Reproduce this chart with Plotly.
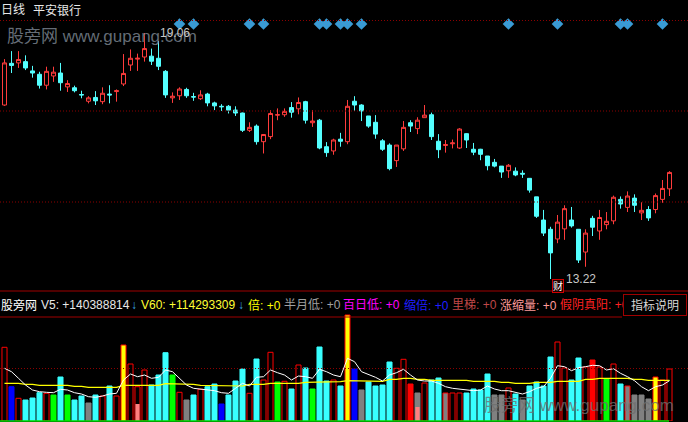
import plotly.graph_objects as go

W, H = 688, 422

# ---------------- data ----------------
period_label = "日线"
stock_name = "平安银行"

open_ = [17.35, 18.34, 18.35, 18.38, 18.16, 18.08, 17.82, 18.04, 18.11, 17.78,
         17.76, 17.60, 17.44, 17.53, 17.43, 17.61, 17.67, 17.85, 18.30, 18.44,
         18.49, 18.51, 18.46, 18.15, 17.52, 17.57, 17.72, 17.55, 17.50, 17.61,
         17.40, 17.32, 17.32, 17.23, 17.16, 16.75, 16.85, 16.48, 16.60, 17.11,
         17.12, 17.29, 17.26, 17.43, 16.93, 16.99, 16.36, 16.26, 16.54, 16.48,
         17.44, 17.35, 17.09, 16.94, 16.50, 16.40, 16.03, 16.31, 16.93, 16.79,
         17.05, 17.12, 16.49, 16.39, 16.43, 16.33, 16.67, 16.30, 16.30, 16.14,
         15.99, 15.90, 15.79, 15.78, 15.73, 15.61, 15.17, 14.62, 14.40, 14.17,
         14.41, 14.62, 14.40, 13.86, 14.66, 14.36, 14.51, 14.60, 15.11, 14.92,
         15.14, 14.79, 14.87, 14.87, 15.11, 15.36]
high = [18.44, 18.63, 18.63, 18.53, 18.28, 18.14, 18.26, 18.26, 18.35, 17.94,
        17.81, 17.69, 17.56, 17.68, 17.77, 17.82, 17.72, 18.56, 18.67, 18.57,
        19.06, 18.69, 18.87, 18.18, 17.65, 17.77, 17.76, 17.64, 17.70, 17.64,
        17.43, 17.37, 17.35, 17.32, 17.17, 16.94, 16.89, 16.66, 17.23, 17.27,
        17.27, 17.42, 17.53, 17.45, 17.23, 17.02, 16.47, 16.55, 16.69, 17.47,
        17.56, 17.37, 17.09, 17.11, 16.54, 16.44, 16.40, 16.97, 16.99, 17.06,
        17.35, 17.17, 16.66, 16.52, 16.53, 16.80, 16.68, 16.45, 16.31, 16.14,
        16.07, 15.90, 15.95, 15.87, 15.80, 15.61, 15.17, 14.86, 14.46, 14.74,
        14.97, 14.93, 14.40, 14.40, 14.72, 14.86, 14.81, 15.20, 15.18, 15.30,
        15.23, 15.04, 14.95, 15.25, 15.57, 15.78]
low = [17.33, 18.11, 18.23, 18.18, 18.00, 17.74, 17.72, 17.90, 17.69, 17.66,
       17.65, 17.51, 17.39, 17.35, 17.37, 17.39, 17.43, 17.80, 18.16, 18.16,
       18.38, 18.30, 18.18, 17.52, 17.40, 17.47, 17.52, 17.45, 17.47, 17.32,
       17.23, 17.21, 17.15, 17.09, 16.71, 16.71, 16.41, 16.20, 16.54, 16.99,
       17.07, 17.05, 17.13, 16.91, 16.83, 16.30, 16.12, 16.17, 16.36, 16.42,
       17.21, 16.97, 16.81, 16.55, 16.26, 15.80, 15.88, 16.26, 16.71, 16.66,
       17.05, 16.52, 16.09, 16.22, 16.32, 16.31, 16.33, 16.16, 16.04, 15.80,
       15.87, 15.62, 15.62, 15.66, 15.62, 15.27, 14.67, 14.24, 13.22, 14.07,
       14.15, 14.44, 13.60, 13.51, 14.24, 14.15, 14.40, 14.52, 14.89, 14.81,
       14.81, 14.62, 14.60, 14.78, 15.03, 15.19]
close = [18.35, 18.29, 18.43, 18.23, 18.11, 17.82, 18.15, 18.13, 17.88, 17.86,
         17.69, 17.59, 17.52, 17.45, 17.63, 17.59, 17.69, 18.10, 18.46, 18.46,
         18.69, 18.39, 18.27, 17.59, 17.56, 17.73, 17.57, 17.54, 17.59, 17.40,
         17.33, 17.31, 17.23, 17.16, 16.75, 16.82, 16.48, 16.65, 17.15, 17.12,
         17.20, 17.18, 17.41, 16.99, 16.97, 16.33, 16.22, 16.52, 16.49, 17.32,
         17.35, 17.21, 16.85, 16.66, 16.30, 15.84, 16.40, 16.82, 16.85, 16.99,
         17.11, 16.60, 16.29, 16.41, 16.45, 16.78, 16.52, 16.23, 16.18, 15.91,
         15.90, 15.76, 15.92, 15.69, 15.71, 15.33, 14.71, 14.31, 13.84, 14.57,
         14.89, 14.48, 13.67, 14.31, 14.45, 14.68, 14.59, 15.16, 15.00, 15.19,
         14.97, 14.85, 14.67, 15.20, 15.37, 15.75]

# volume, in 10k shares (万股)
volume = [22110, 10290, 6810, 6300, 6900, 8490, 8310, 7800, 13200, 7800,
          6300, 7500, 5400, 7800, 7500, 10500, 7500, 22800, 17100, 10290,
          15300, 10800, 13800, 20490, 13800, 8610, 6300, 7800, 9510, 10290,
          11100, 5100, 7800, 12000, 15600, 8310, 18600, 12300, 20610, 11700,
          11910, 9600, 16800, 15900, 9600, 22200, 12000, 12300, 10500, 31800,
          15600, 9300, 11700, 10500, 10800, 17700, 15810, 18510, 11100, 8400,
          11400, 12300, 12900, 8400, 8400, 8400, 8400, 9600, 9300, 14100,
          7800, 7800, 9900, 8100, 6300, 10500, 11700, 10500, 19200, 23700,
          15900, 12300, 18900, 16200, 18300, 16200, 12600, 17100, 11100, 10500,
          7800, 7800, 6600, 13200, 12300, 15600]
vol_kind = ["up", "shrink", "up", "down", "down", "down", "up", "ladder", "down", "ladder",
            "down", "down", "halfmonth_low", "down", "up", "down", "up", "double", "up", "up",
            "up", "down", "down", "down", "ladder", "up", "halfmonth_low", "down", "up", "down",
            "down", "shrink", "down", "down", "down", "up", "down", "up", "up", "ladder",
            "up", "down", "up", "down", "ladder", "down", "down", "up", "down", "double",
            "shrink", "halfmonth_low", "down", "down", "down", "down", "up", "up", "fake_yin", "halfmonth_low",
            "up", "down", "down", "halfmonth_low_up", "up", "up", "down", "down", "down", "down",
            "halfmonth_low", "halfmonth_low", "up", "down", "halfmonth_low", "down", "down", "down", "down", "up",
            "up", "down", "down", "up", "fake_yin", "up", "ladder", "up", "down", "halfmonth_low_up",
            "halfmonth_low", "halfmonth_low", "halfmonth_low", "double", "up", "up"]
rise_shrink_days = [19, 59]
rise_shrink_vol = [5100, 4200]

vol_ma5 = [15810, 14790, 12810, 10800, 9300, 8790, 8610, 8490, 9510, 9300,
           8490, 8100, 7290, 7110, 7500, 8100, 8310, 12300, 14100, 13290,
           13800, 12810, 13110, 15300, 14790, 12810, 10800, 9810, 9600, 9510,
           9090, 8490, 8310, 9810, 11310, 10500, 13110, 13290, 15300, 14490,
           13800, 12300, 13500, 13290, 12810, 15510, 14790, 13800, 13290, 18810,
           17790, 14790, 14010, 13110, 12000, 13800, 14490, 15510, 13800, 12300,
           12000, 12000, 11310, 10290, 9810, 9600, 9300, 9090, 9300, 10500,
           9600, 9090, 9090, 8700, 8100, 8790, 9810, 10290, 12810, 16590,
           16290, 15090, 15990, 16290, 16710, 16590, 15300, 15690, 14310, 13290,
           12090, 10290, 9090, 10290, 10800, 12090]
vol_ma60 = [11310, 11310, 11310, 11010, 11010, 10710, 10710, 10710, 10710, 10710,
            10410, 10410, 10110, 10110, 10110, 10110, 10110, 10710, 10710, 10710,
            10710, 10710, 10710, 11190, 11190, 11010, 11010, 11010, 10710, 10710,
            10710, 10710, 10710, 10500, 10500, 11010, 11010, 11010, 11310, 11310,
            11310, 11310, 11310, 11610, 11610, 11790, 11790, 11790, 11790, 12090,
            12090, 12090, 12090, 12090, 11910, 12510, 12510, 12810, 12810, 12510,
            12510, 12210, 12210, 12210, 12210, 12210, 12210, 11910, 11910, 11910,
            11910, 11610, 11610, 11310, 11310, 11310, 11610, 11610, 11610, 11910,
            11910, 11910, 11910, 12510, 12510, 12810, 12810, 12810, 12810, 12810,
            12510, 12510, 12210, 12210, 12210, 12210]

signal_days = [25, 27, 35, 37, 45, 46, 48, 49, 51, 72, 79, 88, 89, 94]
high_label = "19.06"
low_label = "13.22"

indicator_items = ["股旁网", "V5: +140388814", "↓", "V60: +114293309", "↓", "倍: +0",
                   "半月低: +0", "百日低: +0", "缩倍: +0", "里梯: +0", "涨缩量: +0", "假阴真阳: +0"]
help_label = "指标说明"
watermark = "股旁网 www.gupang.com"

# ---------------- styling ----------------
RED = "#ff3c3c"
CYAN = "#54ffff"
GRID = "#8c0000"
FONT = "Liberation Sans, Noto Sans CJK SC, sans-serif"

kind_fill = {"up": "#000000", "down": "#38ffff", "shrink": "#0000ff", "ladder": "#00ff00",
             "halfmonth_low": "#808080", "halfmonth_low_up": "#808080", "double": "#ffff00",
             "fake_yin": "#ff0000"}
kind_line = {"up": "#ff0000", "down": "#38ffff", "shrink": "#0000ff", "ladder": "#00ff00",
             "halfmonth_low": "#808080", "halfmonth_low_up": "#ff0000", "double": "#ff0000",
             "fake_yin": "#ff0000"}
item_colors = ["#ffffff", "#e8e8e8", "#3aa6e0", "#ffff33", "#3aa6e0", "#ffff00",
               "#a0a0a0", "#ff00ff", "#1e1eff", "#c04848", "#ff9a9a", "#ff2020"]
item_x = [0, 40, 130, 140, 237, 247, 283, 342, 403, 451, 499, 559]

n = len(close)
idx = list(range(n))

# pixel geometry helpers
def px_x(p):
    return p / W

def px_y(p):
    return 1 - p / H

# price axis: 19.06 at y=33px, 13.22 at y=279px
ppp = (max(high) - min(low)) / (279 - 33)
p_top = max(high) + 33 * ppp
p_bot = p_top - 290 * ppp
vol_per_px = 300.0

fig = go.Figure()

fig.add_trace(go.Candlestick(
    x=idx, open=open_, high=high, low=low, close=close,
    increasing=dict(line=dict(color=RED, width=1), fillcolor="#000000"),
    decreasing=dict(line=dict(color=CYAN, width=1), fillcolor=CYAN),
    whiskerwidth=0, hoverinfo="skip", xaxis="x", yaxis="y"))

fig.add_trace(go.Scatter(
    x=signal_days, y=[max(high) + 9 * ppp] * len(signal_days),
    mode="markers", marker=dict(symbol="diamond", size=9, color="#3a9ad4"),
    hoverinfo="skip", xaxis="x", yaxis="y"))

fig.add_trace(go.Bar(
    x=idx, y=volume, width=0.72,
    marker=dict(color=[kind_fill[k] for k in vol_kind],
                line=dict(color=[kind_line[k] for k in vol_kind], width=1)),
    hoverinfo="skip", xaxis="x", yaxis="y2"))

fig.add_trace(go.Bar(
    x=rise_shrink_days, y=rise_shrink_vol, width=0.6,
    marker=dict(color="#ff8080", line=dict(width=0)),
    hoverinfo="skip", xaxis="x", yaxis="y2"))

fig.add_trace(go.Scatter(x=idx, y=vol_ma60, mode="lines",
                         line=dict(color="#ffff00", width=1.2),
                         hoverinfo="skip", xaxis="x", yaxis="y2"))
fig.add_trace(go.Scatter(x=idx, y=vol_ma5, mode="lines",
                         line=dict(color="#ffffff", width=1),
                         hoverinfo="skip", xaxis="x", yaxis="y2"))

shapes = []
for gy in (20.5, 111, 202, 368.5):
    shapes.append(dict(type="line", xref="paper", yref="paper", x0=0, x1=1,
                       y0=px_y(gy), y1=px_y(gy),
                       line=dict(color=GRID, width=1, dash="1px,2px")))
shapes.append(dict(type="line", xref="paper", yref="paper", x0=0, x1=1,
                   y0=px_y(291), y1=px_y(291), line=dict(color="#a00000", width=1)))
shapes.append(dict(type="line", xref="paper", yref="paper", x0=0, x1=px_x(622),
                   y0=px_y(317), y1=px_y(317), line=dict(color="#a00000", width=1)))
shapes.append(dict(type="line", xref="paper", yref="paper", x0=0, x1=px_x(669),
                   y0=px_y(421), y1=px_y(421), line=dict(color="#00e000", width=1.5)))

anns = []

def ann(text, x, y, color, size=12, xanchor="left", **kw):
    d = dict(text=text, x=px_x(x), y=px_y(y), xref="paper", yref="paper",
             xanchor=xanchor, yanchor="middle", showarrow=False,
             font=dict(family=FONT, size=size, color=color), borderpad=0)
    d.update(kw)
    anns.append(d)

ann(period_label, 0, 10, "#e8e8e8")
ann(stock_name, 32, 10, "#e8e8e8")
ann(watermark, 6, 36, "rgba(120,128,140,0.85)", size=17)
ann(watermark, 483, 405, "rgba(110,110,110,0.8)", size=17)
ann(high_label, 159, 33, "#c8c8c8")
ann(low_label, 565, 279, "#c8c8c8")
ann("财", 557.5, 285.5, "#ffffff", size=10, xanchor="center",
    bordercolor="#d00000", borderwidth=1, bgcolor="#200000")
for t, c, x in zip(indicator_items, item_colors, item_x):
    ann(t, x, 305, c)
ann(help_label, 655, 304.5, "#d8d8d8", xanchor="center", width=62, height=20,
    bordercolor="#a00000", borderwidth=1, bgcolor="#000000")

fig.update_layout(
    width=W, height=H, autosize=False,
    margin=dict(l=0, r=0, t=0, b=0, pad=0),
    paper_bgcolor="#000000", plot_bgcolor="#000000",
    showlegend=False, hovermode=False, barmode="overlay",
    boxgap=0.43, boxgroupgap=0,
    xaxis=dict(range=[-4.5 / 7, (W - 4.5) / 7], visible=False, fixedrange=True,
               rangeslider=dict(visible=False), domain=[0, 1]),
    yaxis=dict(range=[p_bot, p_top], domain=[px_y(290), 1], visible=False, fixedrange=True),
    yaxis2=dict(range=[0, 130 * vol_per_px], domain=[px_y(421), px_y(291)],
                visible=False, fixedrange=True, anchor="x"),
    shapes=shapes, annotations=anns,
)

fig.write_html(
    "out.html",
    config={"displayModeBar": False},
    post_script="document.body.style.margin='0';document.body.style.padding='0';"
                "document.body.style.background='#000';document.body.style.overflow='hidden';",
)
